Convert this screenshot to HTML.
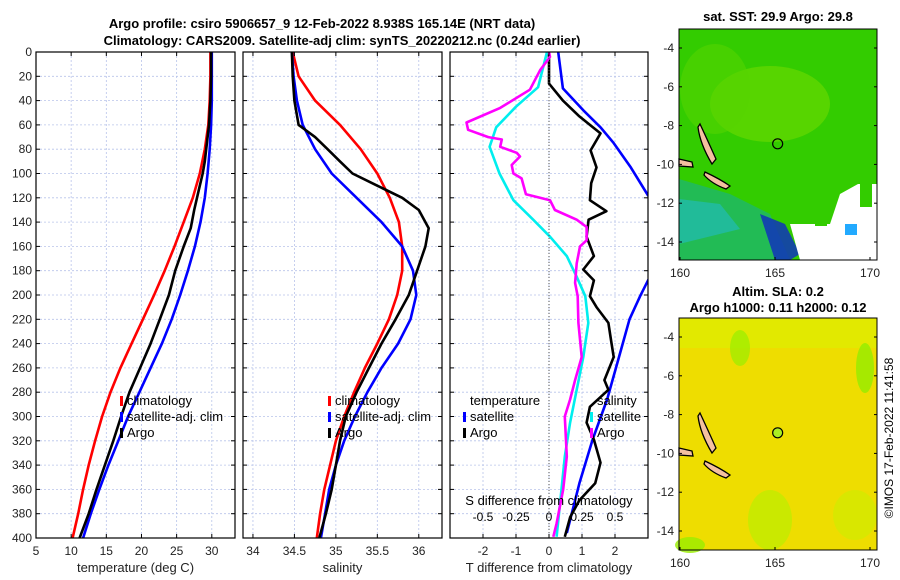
<!DOCTYPE html>
<html><head><meta charset="utf-8"><style>
body{margin:0;background:#fff;}
svg{display:block;font-family:"Liberation Sans","DejaVu Sans",sans-serif;}
</style></head><body>
<svg id="c" width="900" height="580" viewBox="0 0 900 580">
<text x="322" y="28" font-size="13" font-weight="bold" text-anchor="middle">Argo profile: csiro 5906657_9 12-Feb-2022 8.938S 165.14E (NRT data)</text>
<text x="342" y="45" font-size="13" font-weight="bold" text-anchor="middle">Climatology: CARS2009. Satellite-adj clim: synTS_20220212.nc (0.24d earlier)</text>
<g id="maps"></g>
<text transform="translate(893,438) rotate(-90)" font-size="12" text-anchor="middle">©IMOS 17-Feb-2022 11:41:58</text>
</svg>
<script>
// ---------- data ----------
const depths = [0,20,40,60,80,100,120,140,160,180,200,220,240,260,280,300,320,340,360,380,400];
const tempClim = [29.8,29.8,29.7,29.5,29.0,28.3,27.3,26.0,24.7,23.3,21.8,20.2,18.6,17.0,15.6,14.4,13.4,12.5,11.7,11.0,10.2];
const tempSat  = [30.0,30.0,30.0,29.9,29.7,29.4,29.0,28.4,27.6,26.6,25.5,24.3,22.9,21.3,19.7,18.1,16.7,15.3,14.0,12.8,11.7];
const argoDepths = [0,20,40,60,70,80,90,100,110,120,130,145,160,180,200,220,240,260,280,300,320,340,360,380,400];
const tempArgo = [29.9,29.9,29.8,29.6,29.4,29.2,29.0,28.7,28.3,27.9,27.5,27.0,26.0,24.8,23.9,22.6,21.3,19.8,18.3,17.1,16.0,14.8,13.6,12.5,11.2];
const salClim = [34.48,34.55,34.75,35.05,35.3,35.5,35.65,35.76,35.8,35.8,35.74,35.64,35.5,35.35,35.22,35.1,35.0,34.93,34.86,34.81,34.77];
const salSat  = [34.47,34.49,34.53,34.6,34.75,34.95,35.25,35.55,35.8,35.93,35.97,35.9,35.75,35.55,35.38,35.23,35.1,35.0,34.92,34.87,34.82];
const salArgo = [34.47,34.48,34.5,34.55,34.75,34.9,35.05,35.2,35.5,35.8,36.0,36.12,36.08,35.98,35.88,35.72,35.55,35.4,35.25,35.12,35.05,35.0,34.95,34.88,34.8];
// differences
const dTsatDepths = [0,29,45,62,78,100,122,138,152,168,185,201,223,251,278,305,333,360,399];
const dTsat  = [-0.06,-0.33,-1.0,-1.6,-1.8,-1.5,-1.08,-0.48,0.03,0.54,0.84,1.1,1.19,1.04,0.84,0.64,0.48,0.38,0.23];
const dTargoDepths = [0,4,15,31,46,58,64,70,72,78,83,86,93,100,104,114,117,122,130,138,144,155,160,174,190,201,223,251,270,286,300,333,360,388,399];
const dTargo = [0,0.03,-0.27,-0.58,-1.48,-2.5,-2.45,-1.84,-1.43,-1.48,-0.98,-0.88,-1.13,-1.08,-0.83,-0.73,-0.7,0.03,0.18,0.84,1.14,1.14,0.94,0.84,0.79,0.87,0.89,0.99,0.79,0.64,0.48,0.54,0.43,0.23,0.13];
const dSsatDepths = [0,30,48,62,75,95,118,150,188,201,220,251,286,319,355,396];
const dSsat  = [0.07,0.105,0.26,0.39,0.49,0.62,0.75,1.0,0.75,0.69,0.61,0.53,0.44,0.33,0.23,0.135];
const dSargoDepths = [0,26,40,53,67,81,95,108,122,131,138,152,168,179,188,201,210,223,237,251,270,278,292,305,319,338,355,369,383,399];
const dSargo = [0.0,0.0,0.105,0.23,0.39,0.315,0.36,0.32,0.31,0.435,0.3,0.285,0.34,0.26,0.34,0.31,0.36,0.45,0.47,0.49,0.42,0.45,0.31,0.285,0.34,0.39,0.35,0.23,0.16,0.12];
const depthTicks = [0,20,40,60,80,100,120,140,160,180,200,220,240,260,280,300,320,340,360,380,400];
const tempTicks = [5,10,15,20,25,30];
const salTicks = [34,34.5,35,35.5,36];
const dTTicks = [-2,-1,0,1,2];
const dSTicks = [-0.5,-0.25,0,0.25,0.5];

const NS='http://www.w3.org/2000/svg';
const svg=document.getElementById('c');
function mk(tag,attrs,parent){const e=document.createElementNS(NS,tag);for(const k in attrs)e.setAttribute(k,attrs[k]);(parent||svg).appendChild(e);return e;}

const Y0=52,Y1=538;
const yD=d=>Y0+(d/400)*(Y1-Y0);

function panel(name,x0,x1,vmin,vmax,ticks){
  const g=mk('g',{});
  
  
  const cp=mk('clipPath',{id:'cp'+name},g);
  mk('rect',{x:x0,y:Y0,width:x1-x0,height:Y1-Y0},cp);
  const xs=v=>x0+(v-vmin)/(vmax-vmin)*(x1-x0);
  ticks.forEach(t=>{const l=mk('line',{x1:xs(t),x2:xs(t),y1:Y0,y2:Y1,stroke:'#b8c4ea','stroke-width':0.8,'stroke-dasharray':'2,2'},g);
    });
  depthTicks.forEach(d=>{const l=mk('line',{x1:x0,x2:x1,y1:yD(d),y2:yD(d),stroke:'#b8c4ea','stroke-width':0.8,'stroke-dasharray':'2,2'},g);
    });
  const inner=mk('g',{'clip-path':'url(#cp'+name+')'},g);
  return {g,xs,inner};
}
function frame(p,x0,x1,ticks,lab,showY){
  const r=mk('rect',{x:x0,y:Y0,width:x1-x0,height:Y1-Y0,fill:'none',stroke:'#000','stroke-width':1.2},p.g);
  
  ticks.forEach(t=>{const X=p.xs(t);mk('line',{x1:X,x2:X,y1:Y1,y2:Y1-4,stroke:'#000'},p.g);mk('line',{x1:X,x2:X,y1:Y0,y2:Y0+4,stroke:'#000'},p.g);
    const tx=mk('text',{x:X,y:Y1+17,'font-size':12,'text-anchor':'middle',fill:'#222'},p.g);tx.textContent=t;
    });
  depthTicks.forEach(d=>{mk('line',{x1:x0,x2:x0+4,y1:yD(d),y2:yD(d),stroke:'#000'},p.g);mk('line',{x1:x1,x2:x1-4,y1:yD(d),y2:yD(d),stroke:'#000'},p.g);
    if(showY){const tx=mk('text',{x:x0-4,y:yD(d)+4,'font-size':12,'text-anchor':'end',fill:'#222'},p.g);tx.textContent=d;
      }});
  const t=mk('text',{x:(x0+x1)/2,y:572,'font-size':13,'text-anchor':'middle',fill:'#222'},p.g);t.textContent=lab;
  
}
function line(p,vals,ds,color,name,xs){
  const pts=vals.map((v,i)=>xs(v).toFixed(1)+','+yD(ds[i]).toFixed(1)).join(' ');
  const l=mk('polyline',{points:pts,fill:'none',stroke:color,'stroke-width':2.6,'stroke-linejoin':'round'},p.inner);
  
}
function legendEntry(g,x,y,color,txt){
  const e=mk('g',{},g);
  
  if(color)mk('rect',{x:x,y:y-9,width:3,height:10,fill:color},e);
  const t=mk('text',{x:x+7,y:y,'font-size':13,fill:'#000'},e);t.textContent=txt;
}

// Panel 1
const p1=panel('temperature-panel',36,235,5,33.3,tempTicks);
line(p1,tempClim,depths,'#f00','climatology-temp-line',p1.xs);
line(p1,tempSat,depths,'#00f','satellite-temp-line',p1.xs);
line(p1,tempArgo,argoDepths,'#000','argo-temp-line',p1.xs);
frame(p1,36,235,tempTicks,'temperature (deg C)',true);
legendEntry(p1.g,120,405,'#f00','climatology');legendEntry(p1.g,120,421,'#00f','satellite-adj. clim');legendEntry(p1.g,120,437,'#000','Argo');

// Panel 2
const p2=panel('salinity-panel',243,442,33.88,36.28,salTicks);
line(p2,salClim,depths,'#f00','climatology-sal-line',p2.xs);
line(p2,salSat,depths,'#00f','satellite-sal-line',p2.xs);
line(p2,salArgo,argoDepths,'#000','argo-sal-line',p2.xs);
frame(p2,243,442,salTicks,'salinity',false);
legendEntry(p2.g,328,405,'#f00','climatology');legendEntry(p2.g,328,421,'#00f','satellite-adj. clim');legendEntry(p2.g,328,437,'#000','Argo');

// Panel 3
const p3=panel('difference-panel',450,648,-3,3,dTTicks);
const xS=v=>p3.xs(v*4); // S axis: 0.25 per T unit
const zl=mk('line',{x1:p3.xs(0),x2:p3.xs(0),y1:Y0,y2:Y1,stroke:'#555','stroke-width':1,'stroke-dasharray':'1,2'},p3.g);

line(p3,dSsat,dSsatDepths,'#00f','sat-salinity-diff-line',xS);
line(p3,dSargo,dSargoDepths,'#000','argo-salinity-diff-line',xS);
line(p3,dTsat,dTsatDepths,'#0ee','sat-temp-diff-line',p3.xs);
line(p3,dTargo,dTargoDepths,'#f0f','argo-temp-diff-line',p3.xs);
frame(p3,450,648,dTTicks,'T difference from climatology',false);
const st=mk('text',{x:549,y:505,'font-size':13,'text-anchor':'middle'},p3.g);st.textContent='S difference from climatology';

dSTicks.forEach(t=>{const tx=mk('text',{x:xS(t),y:521,'font-size':12,'text-anchor':'middle'},p3.g);tx.textContent=t;
  });
legendEntry(p3.g,463,405,null,'temperature');legendEntry(p3.g,463,421,'#00f','satellite');legendEntry(p3.g,463,437,'#000','Argo');
legendEntry(p3.g,590,405,null,'salinity');legendEntry(p3.g,590,421,'#0ee','satellite');legendEntry(p3.g,590,437,'#f0f','Argo');

// ---------- maps ----------
const lonTicks=[160,165,170];
const latTicks=[-4,-6,-8,-10,-12,-14];
function map(name,top,bottom,title1,title2,kind){
  const g=mk('g',{},document.getElementById('maps'));
  
  const x0=679,x1=877;
  const lx=l=>680+(l-160)*19;
  const ly=l=>top+19+(-4-l)*19.4;
  if(kind==='sst'){
    mk('rect',{x:x0,y:top,width:x1-x0,height:bottom-top,fill:'#33cc00'},g);
    mk('ellipse',{cx:770,cy:top+75,rx:60,ry:38,fill:'#66d800',opacity:0.7},g);
    mk('ellipse',{cx:715,cy:top+60,rx:35,ry:45,fill:'#55d400',opacity:0.6},g);
    mk('path',{d:`M${x0} ${top+150} L730 ${top+165} L770 ${top+185} L790 ${bottom} L${x0} ${bottom}Z`,fill:'#22bb55'},g);
    mk('path',{d:`M${x0} ${top+170} L720 ${top+175} L740 ${top+200} L${x0} ${top+215}Z`,fill:'#22bbaa',opacity:0.8},g);
    mk('path',{d:`M760 ${top+185} L785 ${top+195} L800 ${top+225} L790 ${bottom} L775 ${bottom}Z`,fill:'#1133bb',opacity:0.85},g);
    mk('path',{d:`M790 ${top+195} L830 ${top+195} L840 ${top+165} L858 ${top+155} L${x1} ${top+155} L${x1} ${bottom} L800 ${bottom}Z`,fill:'#fff'},g);
    mk('rect',{x:815,y:top+185,width:12,height:12,fill:'#33cc00'},g);
    mk('rect',{x:845,y:top+195,width:12,height:11,fill:'#22aaff'},g);
    mk('rect',{x:860,y:top+150,width:12,height:28,fill:'#33cc00'},g);
  } else {
    mk('rect',{x:x0,y:top,width:x1-x0,height:bottom-top,fill:'#eedd00'},g);
    mk('rect',{x:x0,y:top,width:x1-x0,height:30,fill:'#ddee00',opacity:0.7},g);
    mk('ellipse',{cx:740,cy:top+30,rx:10,ry:18,fill:'#99ee00',opacity:0.7},g);
    mk('ellipse',{cx:865,cy:top+50,rx:9,ry:25,fill:'#88ee00',opacity:0.7},g);
    mk('ellipse',{cx:770,cy:bottom-30,rx:22,ry:30,fill:'#bbee00',opacity:0.7},g);
    mk('ellipse',{cx:855,cy:bottom-35,rx:22,ry:25,fill:'#ccee00',opacity:0.6},g);
    mk('ellipse',{cx:690,cy:bottom-5,rx:15,ry:8,fill:'#99ee00',opacity:0.8},g);
  }
  // land
  mk('path',{d:`M700 ${top+95} Q707 ${top+110} 716 ${top+130} L712 ${top+135} Q700 ${top+115} 698 ${top+98}Z`,fill:'#f4c0a0',stroke:'#000','stroke-width':1.3},g);
  mk('path',{d:`M705 ${top+143} Q720 ${top+150} 730 ${top+157} L726 ${top+160} Q712 ${top+155} 704 ${top+146}Z`,fill:'#f4c0a0',stroke:'#000','stroke-width':1.3},g);
  mk('path',{d:`M${x0} ${top+130} L692 ${top+133} L693 ${top+138} L${x0} ${top+137}Z`,fill:'#f4c0a0',stroke:'#000','stroke-width':1.3},g);
  const c=mk('circle',{cx:lx(165.14),cy:ly(-8.938),r:5,fill:kind==='sst'?'none':'#aaee22',stroke:'#000','stroke-width':1.2},g);
  
  mk('rect',{x:x0,y:top,width:x1-x0,height:bottom-top,fill:'none',stroke:'#000','stroke-width':1},g);
  lonTicks.forEach(l=>{const X=lx(l);mk('line',{x1:X,x2:X,y1:bottom,y2:bottom-3,stroke:'#000'},g);
    const t=mk('text',{x:X,y:bottom+17,'font-size':12,'text-anchor':'middle',fill:'#222'},g);t.textContent=l;
    });
  latTicks.forEach(l=>{const Y=ly(l);mk('line',{x1:x0,x2:x0+3,y1:Y,y2:Y,stroke:'#000'},g);mk('line',{x1:x1,x2:x1-3,y1:Y,y2:Y,stroke:'#000'},g);
    const t=mk('text',{x:x0-5,y:Y+4,'font-size':12,'text-anchor':'end',fill:'#222'},g);t.textContent=l;
    });
  const t1=mk('text',{x:778,y:title2?top-22:top-8,'font-size':13,'font-weight':'bold','text-anchor':'middle'},g);t1.textContent=title1;
  
  if(title2){const t2=mk('text',{x:778,y:top-6,'font-size':13,'font-weight':'bold','text-anchor':'middle'},g);t2.textContent=title2;
    }
}
map('sst-map',29,260,'sat. SST: 29.9 Argo: 29.8',null,'sst');
map('sla-map',318,550,'Altim. SLA: 0.2','Argo h1000: 0.11 h2000: 0.12','sla');
</script>
</body></html>
